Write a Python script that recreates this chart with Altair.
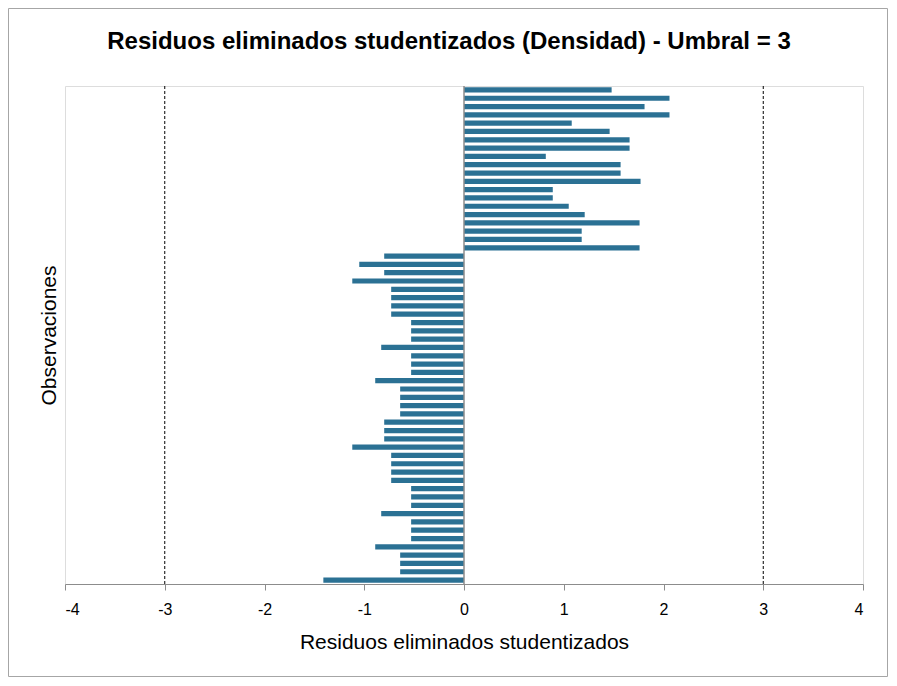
import altair as alt
import pandas as pd

# Studentized deleted residuals, one per observation (top to bottom)
residuals = [
    1.48, 2.06, 1.81, 2.06, 1.08, 1.46, 1.66, 1.66, 0.82, 1.57,
    1.57, 1.77, 0.89, 0.89, 1.05, 1.21, 1.76, 1.18, 1.18, 1.76,
    -0.80, -1.05, -0.80, -1.12, -0.73, -0.73, -0.73, -0.73, -0.53, -0.53,
    -0.53, -0.83, -0.53, -0.53, -0.53, -0.89, -0.64, -0.64, -0.64, -0.64,
    -0.80, -0.80, -0.80, -1.12, -0.73, -0.73, -0.73, -0.73, -0.53, -0.53,
    -0.53, -0.83, -0.53, -0.53, -0.53, -0.89, -0.64, -0.64, -0.64, -1.41,
]
observations = list(range(1, len(residuals) + 1))
thresholds = [-3, 3]
x_ticks = [-4, -3, -2, -1, 0, 1, 2, 3, 4]
title_text = "Residuos eliminados studentizados (Densidad) - Umbral = 3"

df = pd.DataFrame({"obs": observations, "res": residuals})
df_thr = pd.DataFrame({"t": thresholds})
df_zero = pd.DataFrame({"z": [0]})

W, H = 798, 498
PL, PT, PR, PB = 57, 78, 25, 93

xscale = alt.Scale(domain=[-4, 4], nice=False, zero=False)

bars = alt.Chart(df).mark_bar(color="#2b7194").encode(
    x=alt.X(
        "res:Q",
        scale=xscale,
        title="Residuos eliminados studentizados",
        axis=alt.Axis(
            values=x_ticks,
            labelExpr="'' + datum.value",
            grid=False,
            domainColor="#8c8c8c",
            tickColor="#8c8c8c",
            tickSize=6,
            labelFont="Liberation Sans",
            labelFontSize=16,
            labelColor="#000000",
            labelPadding=11,
            titleFont="Liberation Sans",
            titleFontSize=21,
            titleFontWeight="normal",
            titleColor="#000000",
            titlePadding=14,
        ),
    ),
    x2=alt.datum(0),
    y=alt.Y(
        "obs:O",
        sort=None,
        scale=alt.Scale(paddingInner=0.37, paddingOuter=0.16),
        title="Observaciones",
        axis=alt.Axis(
            labels=False,
            ticks=False,
            domain=False,
            grid=False,
            titleFont="Liberation Sans",
            titleFontSize=21,
            titleFontWeight="normal",
            titleColor="#000000",
            titlePadding=6,
        ),
    ),
)

thr = alt.Chart(df_thr).mark_rule(color="#000000", strokeWidth=1, strokeDash=[3, 2]).encode(
    x=alt.X("t:Q", scale=xscale)
)

zero = alt.Chart(df_zero).mark_rule(color="#8c8c8c", strokeWidth=1.5).encode(
    x=alt.X("z:Q", scale=xscale)
)

frame = alt.Chart(alt.Data(values=[{}])).mark_rect(
    fill="transparent", stroke="#a6a6a6", strokeWidth=1
).encode(
    x=alt.value(-PL + 0.5),
    x2=alt.value(W + PR - 0.5),
    y=alt.value(-PT + 0.5),
    y2=alt.value(H + PB - 0.5),
)

title = alt.Chart(alt.Data(values=[{"label": title_text}])).mark_text(
    font="Liberation Sans",
    fontSize=24,
    fontWeight="bold",
    color="#000000",
    align="center",
    baseline="middle",
).encode(
    text="label:N",
    x=alt.value((W + PL + PR) / 2 - PL + 1),
    y=alt.value(42 - 8 - PT),
)

chart = alt.layer(frame, bars, thr, zero, title).properties(
    width=W,
    height=H,
    autosize=alt.AutoSizeParams(type="none"),
    padding={"left": PL, "top": PT, "right": PR, "bottom": PB},
).configure_view(stroke="#d9d9d9", strokeWidth=1).configure(background="white")

chart.save("out.html", embed_options={"renderer": "svg", "actions": False})
